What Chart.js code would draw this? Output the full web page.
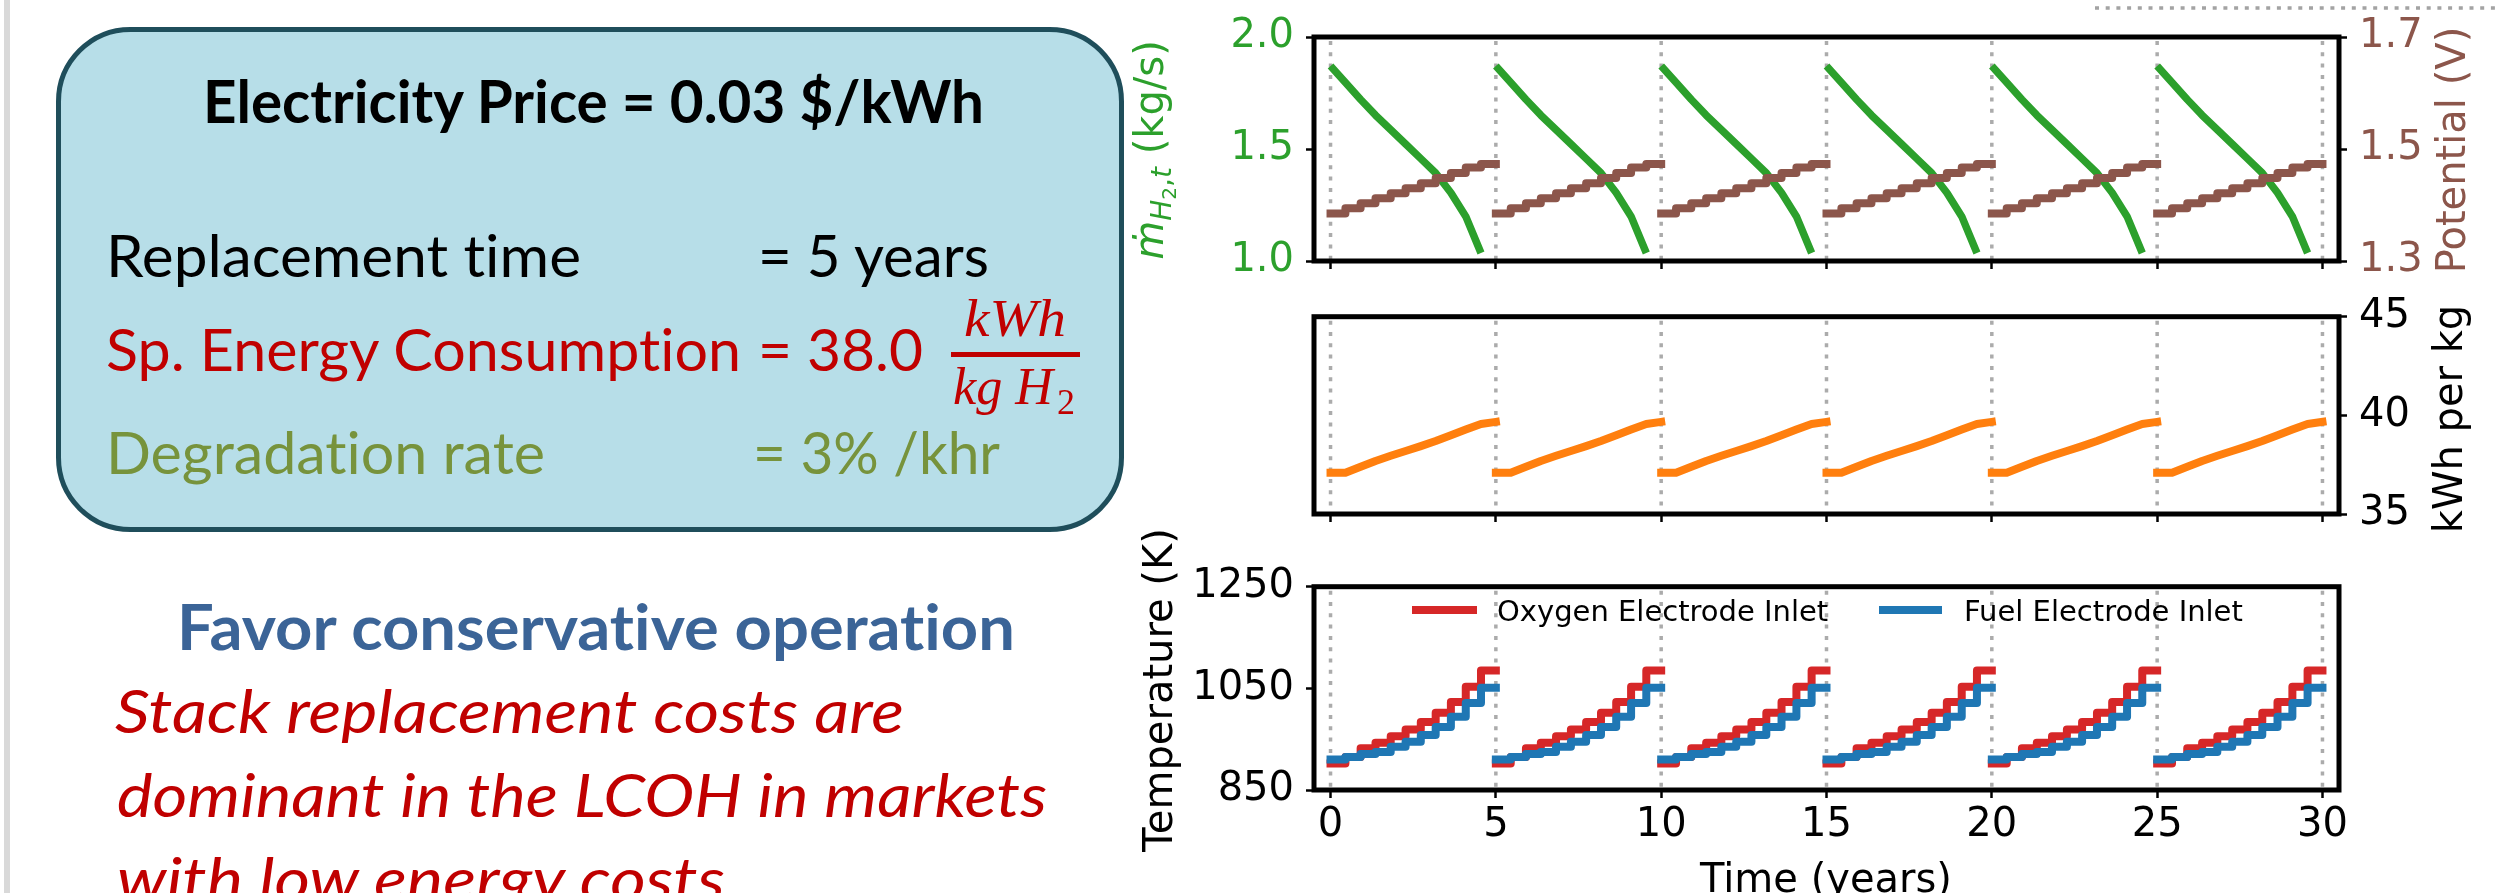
<!DOCTYPE html>
<html>
<head>
<meta charset="utf-8">
<script src="https://cdn.jsdelivr.net/npm/chart.js@4.4.1/dist/chart.umd.min.js"></script>
<style>
html,body{margin:0;padding:0;background:#fff;}
body{width:2499px;height:893px;position:relative;overflow:hidden;}
canvas{position:absolute;}
#ov{position:absolute;left:0;top:0;pointer-events:none;font-variant-ligatures:none;}
</style>
</head>
<body>
<canvas id="c1" width="1399" height="300" style="left:1100px;top:0px;width:1399px;height:300px"></canvas>
<canvas id="c2" width="1399" height="270" style="left:1100px;top:280px;width:1399px;height:270px"></canvas>
<canvas id="c3" width="1399" height="343" style="left:1100px;top:550px;width:1399px;height:343px"></canvas>

<svg id="ov" width="2499" height="893" xmlns="http://www.w3.org/2000/svg">
  <defs>
    <filter id="sh" x="-5%" y="-200%" width="110%" height="500%">
      <feGaussianBlur stdDeviation="2"/>
    </filter>
  </defs>
  <!-- slide elements -->
  <rect x="4" y="0" width="6" height="893" fill="#d9d9d9"/>
  <line x1="2095" y1="12" x2="2499" y2="12" stroke="#d0d0d0" stroke-width="4" filter="url(#sh)"/>
  <line x1="2095" y1="8" x2="2499" y2="8" stroke="#a3a3a3" stroke-width="3.5" stroke-dasharray="4 6.7"/>

  <rect x="58.5" y="29.5" width="1063" height="500" rx="72" ry="72" fill="#B7DEE8" stroke="#1F4E5B" stroke-width="5"/>
  <g font-family="Lato, 'Open Sans', sans-serif">
    <text x="203" y="123" font-size="59" font-weight="700" fill="#000" textLength="781" lengthAdjust="spacingAndGlyphs">Electricity Price = 0.03 $/kWh</text>
    <text x="106" y="277" font-size="59" fill="#000" textLength="475" lengthAdjust="spacingAndGlyphs">Replacement time</text>
    <text x="758" y="277" font-size="59" fill="#000" textLength="231" lengthAdjust="spacingAndGlyphs">= 5 years</text>
    <text x="106" y="371" font-size="59" fill="#C00000" textLength="635" lengthAdjust="spacingAndGlyphs">Sp. Energy Consumption</text>
    <text x="758" y="371" font-size="59" fill="#C00000" textLength="165" lengthAdjust="spacingAndGlyphs">= 38.0</text>
    <text x="106" y="474" font-size="59" fill="#77933C" textLength="439" lengthAdjust="spacingAndGlyphs">Degradation rate</text>
    <text x="753" y="474" font-size="59" fill="#77933C" textLength="247" lengthAdjust="spacingAndGlyphs">= 3% /khr</text>

    <text x="177" y="650" font-size="63" font-weight="700" fill="#3B6497" textLength="838" lengthAdjust="spacingAndGlyphs">Favor conservative operation</text>
    <text x="115" y="733" font-size="61" font-style="italic" fill="#C00000" textLength="789" lengthAdjust="spacingAndGlyphs">Stack replacement costs are</text>
    <text x="117" y="817" font-size="61" font-style="italic" fill="#C00000" textLength="930" lengthAdjust="spacingAndGlyphs">dominant in the LCOH in markets</text>
    <text x="117" y="901" font-size="61" font-style="italic" fill="#C00000" textLength="608" lengthAdjust="spacingAndGlyphs">with low energy costs</text>
  </g>
  <g font-family="'Liberation Serif', 'DejaVu Serif', serif" font-style="italic" fill="#C00000">
    <text x="964" y="336" font-size="52" textLength="102" lengthAdjust="spacingAndGlyphs">kWh</text>
    <text x="953" y="404" font-size="52" textLength="100" lengthAdjust="spacingAndGlyphs">kg H</text>
    <text x="1057" y="414" font-size="36" font-style="normal">2</text>
  </g>
  <rect x="951" y="352" width="129" height="5" fill="#C00000"/>

  <!-- axis titles -->
  <g font-family="'DejaVu Sans', sans-serif" font-size="40">
    <text transform="translate(1163,150) rotate(-90)" text-anchor="middle" fill="#2ca02c"><tspan font-style="italic">ṁ</tspan><tspan font-style="italic" font-size="28" dy="8">H</tspan><tspan font-size="20" dy="5">2</tspan><tspan font-size="28" dy="-5">,</tspan><tspan font-style="italic" font-size="28">t</tspan><tspan dy="-8"> (kg/s)</tspan></text>
    <text transform="translate(2465,150) rotate(-90)" text-anchor="middle" fill="#8c564b">Potential (V)</text>
    <text transform="translate(2462,419) rotate(-90)" text-anchor="middle" fill="#000">kWh per kg</text>
    <text transform="translate(1172,690) rotate(-90)" text-anchor="middle" fill="#000">Temperature (K)</text>
    <text x="1826" y="892" text-anchor="middle" fill="#000">Time (years)</text>
  </g>
  <g id="legend" font-family="'DejaVu Sans', sans-serif" font-size="29" fill="#000"></g>
</svg>

<script>
// ---------------- data ----------------
const cycleStarts = [0, 5, 10, 15, 20, 25];            // stack replacement every 5 years
const replacementYears = [0, 5, 10, 15, 20, 25, 30];
const stepTimes = [0, 0.45, 0.91, 1.36, 1.82, 2.27, 2.73, 3.18, 3.64, 4.09, 4.55, 5.0]; // years within a cycle

const h2FlowRate    = [1.871, 1.797, 1.721, 1.651, 1.586, 1.522, 1.457, 1.393, 1.305, 1.199, 1.036]; // kg/s
const cellPotential = [1.385, 1.394, 1.403, 1.412, 1.421, 1.430, 1.439, 1.448, 1.457, 1.467, 1.473]; // V
const spEnergy      = [37.09, 37.09, 37.39, 37.69, 37.95, 38.19, 38.44, 38.70, 38.99, 39.28, 39.56, 39.67]; // kWh/kg
const oxygenInletT  = [902, 915, 932, 943, 956, 969, 984, 1002, 1023, 1053, 1085]; // K
const fuelInletT    = [910, 915, 921, 925, 935, 945, 958, 974, 994, 1021, 1051];   // K

const seriesNames = ['Oxygen Electrode Inlet', 'Fuel Electrode Inlet'];

const xTicks = [0, 5, 10, 15, 20, 25, 30];
const flowTicks = [1.0, 1.5, 2.0];
const potentialTicks = [1.3, 1.5, 1.7];
const energyTicks = [35, 40, 45];
const tempTicks = [850, 1050, 1250];

// ---------------- helpers ----------------
function stepSeries(levels) {          // step-post per cycle, separate segments
  const pts = [];
  cycleStarts.forEach(c => {
    stepTimes.forEach((t, k) => pts.push({x: c + t, y: levels[Math.min(k, levels.length - 1)]}));
    pts.push({x: c + 5, y: null});
  });
  return pts;
}
function lineSeries(values) {
  const pts = [];
  cycleStarts.forEach(c => {
    values.forEach((v, k) => pts.push({x: c + stepTimes[k], y: v}));
    pts.push({x: c + stepTimes[values.length - 1], y: null});
  });
  return pts;
}
const tickFont = {family: 'DejaVu Sans', size: 40};
const gridOpts = {display: true, drawOnChartArea: false, drawTicks: true, tickLength: 8, tickWidth: 2.5, tickColor: '#000'};
const setTicks = arr => (s => { s.ticks = arr.map(v => ({value: v})); });

function xScale(height, showLabels) {
  return {
    type: 'linear', min: -0.5, max: 30.5,
    afterBuildTicks: setTicks(xTicks),
    ticks: {display: showLabels, color: '#000', font: tickFont, padding: 4, maxRotation: 0, autoSkip: false},
    grid: gridOpts, border: {display: false},
    afterFit: s => { s.height = height; }
  };
}
function yScale(pos, min, max, ticksArr, color, digits, width) {
  return {
    type: 'linear', position: pos, min: min, max: max,
    afterBuildTicks: setTicks(ticksArr),
    ticks: {color: color, font: tickFont, padding: 12, callback: v => Number(v).toFixed(digits)},
    grid: gridOpts, border: {display: false},
    afterFit: s => { s.width = width; }
  };
}

const framePlugin = {
  id: 'frame',
  beforeDatasetsDraw(chart) {
    const {ctx, chartArea: a, scales} = chart;
    ctx.save();
    ctx.strokeStyle = '#ababab';
    ctx.lineWidth = 3.5;
    ctx.setLineDash([4, 7.3]);
    replacementYears.forEach(v => {
      const x = scales.x.getPixelForValue(v);
      ctx.beginPath(); ctx.moveTo(x, a.top + 4); ctx.lineTo(x, a.bottom); ctx.stroke();
    });
    ctx.restore();
  },
  afterDatasetsDraw(chart) {
    const {ctx, chartArea: a} = chart;
    ctx.save();
    ctx.lineWidth = 5; ctx.strokeStyle = '#000';
    ctx.strokeRect(a.left, a.top, a.right - a.left, a.bottom - a.top);
    ctx.restore();
  }
};

function ds(label, data, color, width, stepped, order) {
  return {label, data, borderColor: color, backgroundColor: color, borderWidth: width,
          pointRadius: 0, fill: false, tension: 0, stepped: stepped, spanGaps: false,
          borderCapStyle: 'square', borderJoinStyle: 'round', order: order};
}
function makeChart(id, datasets, scales, padding) {
  return new Chart(document.getElementById(id), {
    type: 'line',
    data: {datasets},
    options: {
      responsive: false, animation: false, devicePixelRatio: 1,
      layout: {padding},
      plugins: {legend: {display: false}, tooltip: {enabled: false}},
      scales
    },
    plugins: [framePlugin]
  });
}

// Panel 1: H2 flow rate & potential
makeChart('c1', [
  Object.assign(ds('H2 production rate', lineSeries(h2FlowRate), '#2ca02c', 7.5, false, 1), {yAxisID: 'y', borderCapStyle: 'butt'}),
  Object.assign(ds('Potential', stepSeries(cellPotential), '#8c564b', 8, 'before', 0), {yAxisID: 'y1'})
], {
  x: xScale(39, false),
  y: yScale('left', 1.0, 2.0, flowTicks, '#2ca02c', 1, 214),
  y1: yScale('right', 1.3, 1.7, potentialTicks, '#8c564b', 1, 160)
}, {top: 37, left: 0, right: 0, bottom: 0});

// Panel 2: specific energy consumption
makeChart('c2', [
  Object.assign(ds('kWh per kg', lineSeries(spEnergy), '#ff7f0e', 8, false, 0), {yAxisID: 'y1'})
], {
  x: xScale(29, false),
  y1: yScale('right', 35, 45, energyTicks, '#000', 0, 160)
}, {top: 36.7, left: 214, right: 0, bottom: 0});

// Panel 3: inlet temperatures
makeChart('c3', [
  Object.assign(ds(seriesNames[0], stepSeries(oxygenInletT), '#d62728', 8, 'before', 1), {yAxisID: 'y'}),
  Object.assign(ds(seriesNames[1], stepSeries(fuelInletT), '#1f77b4', 8, 'before', 0), {yAxisID: 'y'})
], {
  x: xScale(103, true),
  y: yScale('left', 850, 1250, tempTicks, '#000', 0, 214)
}, {top: 36.7, left: 0, right: 160, bottom: 0});

// legend (inside bottom panel)
(function () {
  const g = document.getElementById('legend');
  const ns = 'http://www.w3.org/2000/svg';
  const items = [
    {name: seriesNames[0], color: '#d62728', x1: 1412, x2: 1477, tx: 1497},
    {name: seriesNames[1], color: '#1f77b4', x1: 1879, x2: 1942, tx: 1964}
  ];
  items.forEach(it => {
    const l = document.createElementNS(ns, 'line');
    l.setAttribute('x1', it.x1); l.setAttribute('x2', it.x2);
    l.setAttribute('y1', 610); l.setAttribute('y2', 610);
    l.setAttribute('stroke', it.color); l.setAttribute('stroke-width', 8);
    g.appendChild(l);
    const t = document.createElementNS(ns, 'text');
    t.setAttribute('x', it.tx); t.setAttribute('y', 621);
    t.textContent = it.name;
    g.appendChild(t);
  });
})();
</script>
</body>
</html>
